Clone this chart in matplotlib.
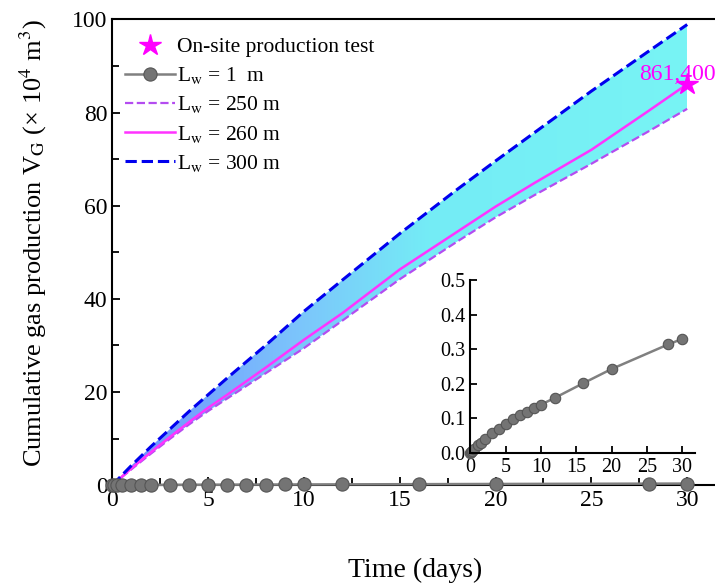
import numpy as np
import matplotlib
matplotlib.use('Agg')
import matplotlib.pyplot as plt
from matplotlib.colors import LinearSegmentedColormap
from matplotlib.ticker import MultipleLocator, FormatStrFormatter

plt.rcParams['font.family'] = ['Liberation Serif', 'DejaVu Serif']
plt.rcParams['mathtext.fontset'] = 'stix'

# time (days) and cumulative gas production (10^4 m^3)
t_curve = [0, 1, 2, 3, 4, 5, 6, 8, 10, 12, 15, 18, 20, 22, 25, 28, 30]
vg_300 = [0, 4.2, 8.2, 12.0, 15.8, 19.4, 23.0, 30.0, 37.3, 44.0, 54.0, 63.5, 69.6, 75.6, 84.6, 93.2, 98.9]
vg_260 = [0, 3.6, 7.0, 10.3, 13.5, 16.6, 19.4, 25.2, 31.2, 36.9, 46.3, 54.4, 59.8, 64.8, 72.0, 80.4, 86.1]
vg_250 = [0, 3.4, 6.7, 9.9, 13.0, 15.9, 18.6, 24.0, 29.4, 35.3, 44.2, 52.3, 57.5, 62.2, 69.0, 76.0, 80.8]

t_1m = [0, 0.1, 0.25, 0.5, 1, 1.5, 2, 3, 4, 5, 6, 7, 8, 9, 10, 12, 16, 20, 28, 30]
vg_1m = [0, 0.003, 0.006, 0.012, 0.022, 0.03, 0.04, 0.057, 0.07, 0.085, 0.097, 0.11, 0.12, 0.13,
         0.14, 0.16, 0.202, 0.243, 0.314, 0.33]

test_t = 30
test_vg = 86.14
test_label = '861,400'

fig = plt.figure(figsize=(7.15, 5.88), dpi=100)
ax = fig.add_axes([0.157, 0.175, 0.847, 0.792])

# gradient fill between 250 m and 300 m
cmap = LinearSegmentedColormap.from_list('bc', [(0.0, '#6f8cff'), (0.33, '#7cc6fb'), (0.55, '#74ecf6'), (1.0, '#78f4f4')])
grad = np.linspace(0, 1, 256).reshape(1, -1)
poly = ax.fill_between(t_curve, vg_250, vg_300, color='none', lw=0)
im = ax.imshow(grad, extent=[0, 30, 0, 100], aspect='auto', cmap=cmap, origin='lower', zorder=1)
im.set_clip_path(poly.get_paths()[0], transform=ax.transData)

ax.plot(t_1m, vg_1m, '-', color='#808080', lw=1.8, marker='o', ms=9.5, mfc='#747474',
        mec='#555555', mew=0.8, clip_on=False, zorder=5, label='L$_\\mathrm{w}$ = 1  m')
ax.plot(t_curve, vg_250, '--', color='#b44cf0', lw=1.6, zorder=3, label='L$_\\mathrm{w}$ = 250 m')
ax.plot(t_curve, vg_260, '-', color='#ff33ff', lw=1.8, zorder=3, label='L$_\\mathrm{w}$ = 260 m')
ax.plot(t_curve, vg_300, '--', color='#0000ee', lw=2.2, zorder=3, label='L$_\\mathrm{w}$ = 300 m')
ax.plot([test_t], [test_vg], '*', color='#ff00ff', ms=16, zorder=6, clip_on=False,
        label='On-site production test')
ax.text(31.5, 87.0, test_label, color='#ff00ff', fontsize=17, ha='right', va='baseline', zorder=7)

ax.set_xlim(0, 31.6)
ax.set_ylim(0, 100)
ax.xaxis.set_major_locator(MultipleLocator(5))
ax.xaxis.set_minor_locator(MultipleLocator(2.5))
ax.yaxis.set_major_locator(MultipleLocator(20))
ax.yaxis.set_minor_locator(MultipleLocator(10))
ax.tick_params(which='both', direction='in', labelsize=17, width=1.3, top=False, right=False)
ax.tick_params(which='major', length=6)
ax.tick_params(which='minor', length=5)
for s in ax.spines.values():
    s.set_linewidth(1.5)
ax.set_xlabel('Time (days)', fontsize=20, labelpad=34)
ax.set_ylabel('Cumulative gas production V$_\\mathrm{G}$ (× 10$^4$ m$^3$)', fontsize=19)
ax.yaxis.set_label_coords(-0.104, 0.52)

h, l = ax.get_legend_handles_labels()
order = [4, 0, 1, 2, 3]
ax.legend([h[i] for i in order], [l[i] for i in order], loc='upper left', frameon=False,
          fontsize=15.5, handlelength=2.3, handletextpad=0.1, labelspacing=0.38,
          borderaxespad=0.2, bbox_to_anchor=(0.0, 0.99))

# inset
ins = fig.add_axes([0.658, 0.2296, 0.314, 0.294])
ins.patch.set_alpha(0)
ins.plot(t_1m, vg_1m, '-', color='#808080', lw=1.8, marker='o', ms=7.5, mfc='#747474',
         mec='#555555', mew=0.8, clip_on=False)
ins.set_xlim(0, 31.8)
ins.set_ylim(0, 0.5)
ins.xaxis.set_major_locator(MultipleLocator(5))
ins.yaxis.set_major_locator(MultipleLocator(0.1))
ins.yaxis.set_major_formatter(FormatStrFormatter('%.1f'))
ins.spines['top'].set_visible(False)
ins.spines['right'].set_visible(False)
for s in ['left', 'bottom']:
    ins.spines[s].set_linewidth(1.5)
ins.tick_params(direction='in', labelsize=14.5, width=1.3, length=5)

fig.savefig('out.png', dpi=100)
